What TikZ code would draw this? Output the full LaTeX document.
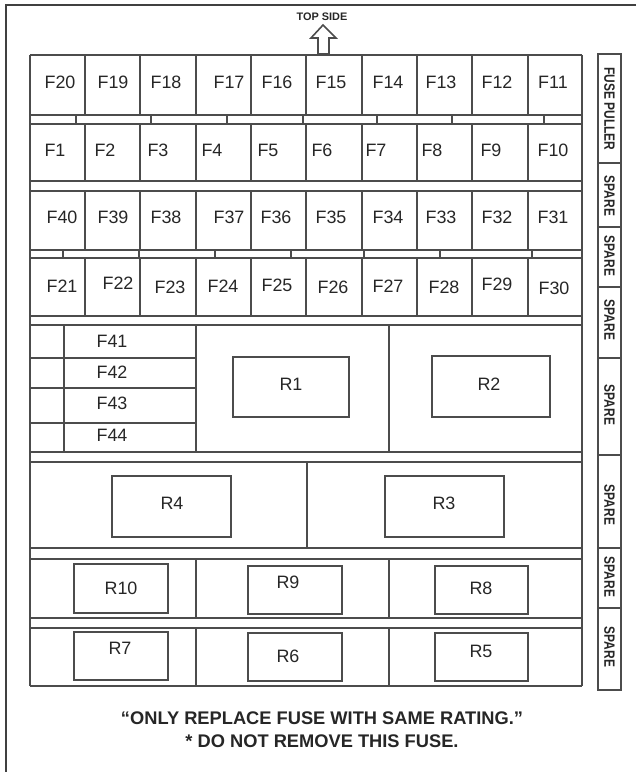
\documentclass[tikz,border=0pt]{standalone}
\usepackage{fontspec}
\setmainfont{Liberation Sans}
\begin{document}
\begin{tikzpicture}[x=0.02cm, y=-0.02cm,
                    line/.style={draw=black!70, line width=0.9pt},
                    tick/.style={draw=black!70, line width=1.6pt},
                    fuse/.style={text=black!85, inner sep=0pt, font=\fontsize{10.2}{12}\selectfont},
                    relay/.style={draw=black!70, line width=0.9pt, inner sep=0pt},
                    spare/.style={text=black!85, inner sep=0pt, rotate=-90, font=\fontsize{8.5}{10}\selectfont\bfseries},
                    note/.style={text=black!85, inner sep=0pt, font=\fontsize{10.4}{13}\selectfont\bfseries}
                    ]
                    \useasboundingbox (0,0) rectangle (642,772);
                    \draw[draw=black!75, line width=1.1pt] (636,5) -- (6,5) -- (6,772);

                    \node[inner sep=0pt, text=black!85, font=\fontsize{6.2}{7}\selectfont\bfseries] (top) at (322,17) {TOP SIDE};
                    \draw[line, fill=white] (323,25) -- (336,38) -- (329,38) -- (329,54) -- (318,54) -- (318,38) -- (311,38) -- cycle;

                    % box outline
                    \draw[line] (30,55) -- (30,686);
                    \draw[line] (582,55) -- (582,686);
                    \foreach \y in {55,115,124,181,191,250,258,316,325,452,462,548,559,618,628,686}{
                        \draw[line] (30,\y) -- (582,\y);
                    }
                    \foreach \x in {85,140,196,251,306,362,417,472,528}{
                        \draw[line] (\x,55) -- (\x,115);
                        \draw[line] (\x,124) -- (\x,181);
                        \draw[line] (\x,191) -- (\x,250);
                        \draw[line] (\x,258) -- (\x,316);
                    }
                    \foreach \x in {76,151,227,303,377,452,544}{
                        \draw[tick] (\x,115) -- (\x,124);
                    }
                    \foreach \x in {63,139,215,291,364,440,532}{
                        \draw[tick] (\x,250) -- (\x,258);
                    }

                    % fuses
                    \foreach \n/\x in {20/60,19/113,18/166,17/229,16/277,15/331,14/388,13/441,12/497,11/553}{
                        \node[fuse] (F\n) at (\x,82) {F\n};
                    }
                    \foreach \n/\x in {1/55,2/105,3/158,4/212,5/268,6/322,7/376,8/432,9/491,10/553}{
                        \node[fuse] (F\n) at (\x,150) {F\n};
                    }
                    \foreach \n/\x in {40/62,39/113,38/166,37/229,36/276,35/331,34/388,33/441,32/497,31/553}{
                        \node[fuse] (F\n) at (\x,217) {F\n};
                    }
                    \foreach \n/\x/\y in {21/62/286,22/118/283,23/170/287,24/223/286,25/277/285,26/333/287,27/388/286,28/444/287,29/497/284,30/554/288}{
                        \node[fuse] (F\n) at (\x,\y) {F\n};
                    }

                    \draw[line] (64,325) -- (64,452);
                    \draw[line] (196,325) -- (196,452);
                    \draw[line] (389,325) -- (389,452);
                    \foreach \y in {358,388,423}{
                        \draw[line] (30,\y) -- (196,\y);
                    }
                    \foreach \n/\y in {41/341,42/372,43/403,44/435}{
                        \node[fuse] (F\n) at (112,\y) {F\n};
                    }
                    \draw[line] (307,462) -- (307,548);
                    \foreach \ya/\yb in {559/618,628/686}{
                        \draw[line] (196,\ya) -- (196,\yb);
                        \draw[line] (389,\ya) -- (389,\yb);
                    }

                    % relays
                    \foreach \n/\xa/\ya/\xb/\yb/\lx/\ly in {R1/233/357/349/417/291/384,R2/432/356/550/417/489/384,
                        R4/112/476/231/537/172/503,R3/385/476/504/537/444/503,
                        R10/74/564/168/613/121/588,R9/248/566/342/614/288/582,R8/435/566/528/614/481/588,
                        R7/74/632/168/680/120/648,R6/248/633/342/681/288/656,R5/435/633/528/681/481/651}{
                        \node[relay, minimum width={(\xb-\xa)*0.02cm}, minimum height={(\yb-\ya)*0.02cm}] (\n) at ({(\xa+\xb)/2},{(\ya+\yb)/2}) {};
                        \node[fuse] (\n-lbl) at (\lx,\ly) {\n};
                    }

                    % side strip
                    \draw[line] (598,54) rectangle (621,690);
                    \foreach \y in {163,227,287,358,455,548,608}{
                        \draw[line] (598,\y) -- (621,\y);
                    }
                    \node[spare] (puller) at (609.5,109) {\scalebox{0.8}[1]{FUSE PULLER}};
                    \foreach \i/\y in {1/196,2/256,3/320,4/405,5/505,6/577,7/647}{
                        \node[spare] (spare\i) at (609.5,\y) {\scalebox{0.8}[1]{SPARE}};
                    }

                    \node[note] (rating) at (322,718) {“ONLY REPLACE FUSE WITH SAME RATING.”};
                    \node[note] (keep) at (322,741) {* DO NOT REMOVE THIS FUSE.};
                \end{tikzpicture}
\end{document}
